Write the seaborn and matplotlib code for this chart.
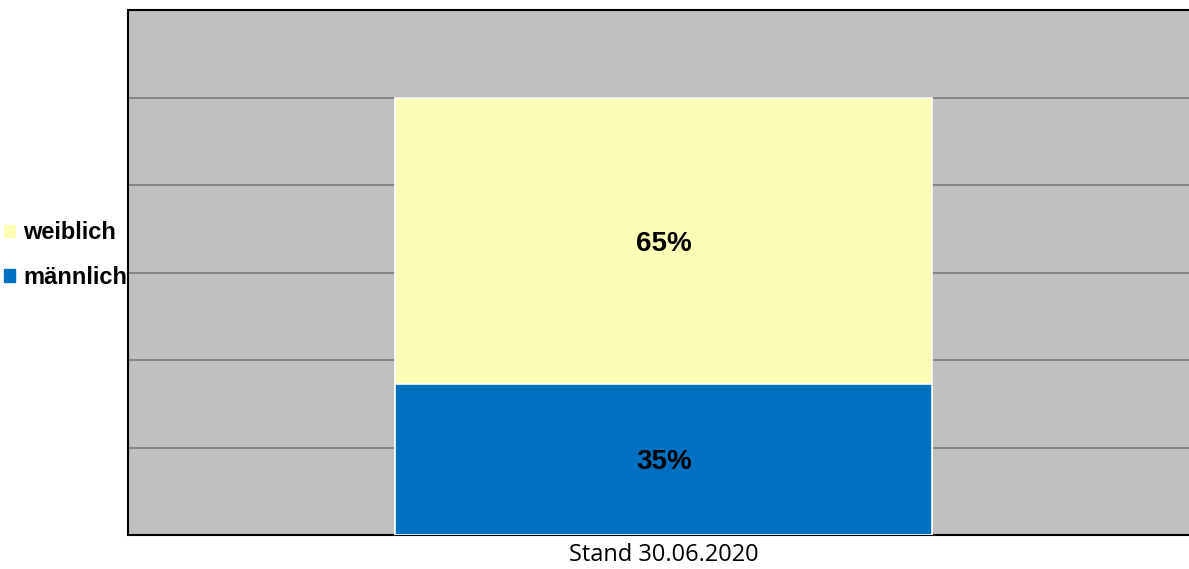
import matplotlib
matplotlib.use("Agg")
import matplotlib.pyplot as plt
import matplotlib.patches as mpatches
import seaborn as sns

# Daten
kategorie = ["Stand 30.06.2020"]
maennlich = [34.6]
weiblich = [65.4]
gruppen = ["weiblich", "männlich"]
farben = {"weiblich": "#FCFDB6", "männlich": "#0070C0"}

gesamt = [m + w for m, w in zip(maennlich, weiblich)]

sns.set_style("white")
plt.rcParams["font.family"] = ["Liberation Sans", "DejaVu Sans"]
plt.rcParams["text.color"] = "black"
plt.rcParams["xtick.color"] = "black"

fig = plt.figure(figsize=(11.89, 5.69), dpi=100)
ax = fig.add_axes([128 / 1189, 34 / 569, 1 - 128 / 1189, 525 / 569])
ax.set_facecolor("#C0C0C0")

# gestapelt: erst gesamt (gelb), dann männlich (blau) darüber
sns.barplot(x=kategorie, y=gesamt, color=farben["weiblich"], width=0.506,
            edgecolor="white", linewidth=1.2, saturation=1, ax=ax, zorder=3)
sns.barplot(x=kategorie, y=maennlich, color=farben["männlich"], width=0.506,
            edgecolor="white", linewidth=1.2, saturation=1, ax=ax, zorder=3)

c_w = ax.containers[0]
# Beschriftung in der Mitte der Segmente
for rect, w, m in zip(c_w, weiblich, maennlich):
    xm = rect.get_x() + rect.get_width() / 2
    ax.annotate(f"{w:.0f}%", (xm, m + w / 2), xytext=(0, -2.2), textcoords="offset points",
                ha="center", va="center", fontsize=20, fontweight="bold", color="black", zorder=5)
    ax.annotate(f"{m:.0f}%", (xm, m / 2), xytext=(0, -2.2), textcoords="offset points",
                ha="center", va="center", fontsize=20, fontweight="bold", color="black", zorder=5)

ax.set_xlim(-0.505, 0.495)
ax.set_ylim(0, 120)
ax.set_yticks(range(0, 121, 20))
ax.set_yticklabels([])
ax.yaxis.grid(True, color="#808080", linewidth=1.3, zorder=0)
ax.set_axisbelow(True)
ax.tick_params(axis="both", length=0)
ax.tick_params(axis="x", pad=6, colors="black")
for lbl in ax.get_xticklabels():
    lbl.set_fontfamily(["Open Sans", "DejaVu Sans"])
    lbl.set_fontsize(17)
ax.set_xlabel("")
ax.set_ylabel("")

for s in ["left", "top", "bottom"]:
    ax.spines[s].set_visible(True)
    ax.spines[s].set_color("black")
    ax.spines[s].set_linewidth(1.5)
ax.spines["right"].set_visible(False)

handles = [mpatches.Patch(color=farben[g], label=g) for g in gruppen]
leg = fig.legend(handles=handles, loc="center left", bbox_to_anchor=(4 / 1189, 1 - 255 / 569),
                 frameon=False, prop={"family": "Liberation Sans", "weight": "bold", "size": 17},
                 handlelength=0.45, handleheight=0.45, handletextpad=0.35,
                 labelspacing=0.9, borderpad=0, borderaxespad=0)
for t in leg.get_texts():
    t.set_color("black")

fig.savefig("out.png", dpi=100)
